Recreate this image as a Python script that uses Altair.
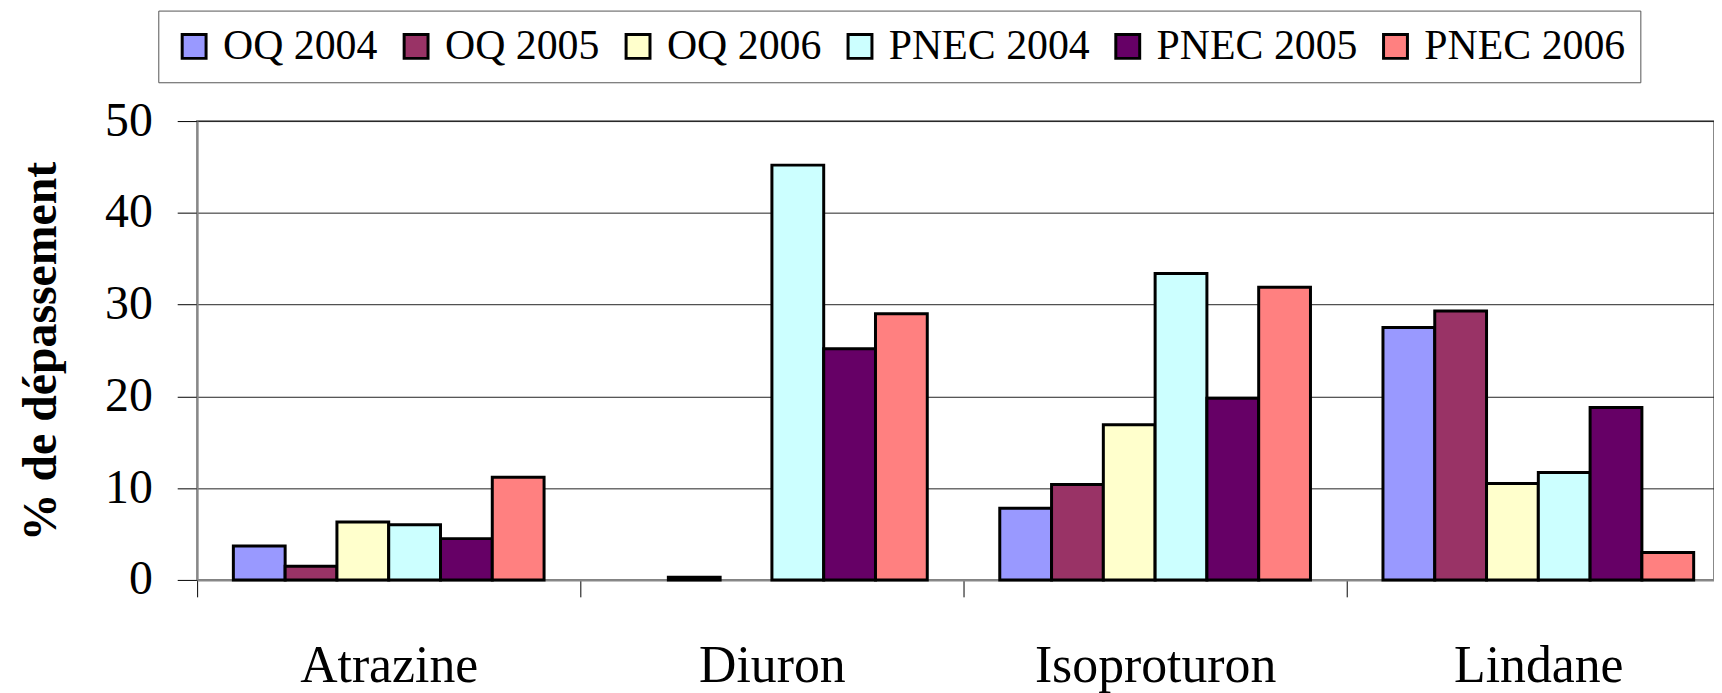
import altair as alt
import pandas as pd

categories = ["Atrazine", "Diuron", "Isoproturon", "Lindane"]
series = ["OQ 2004", "OQ 2005", "OQ 2006", "PNEC 2004", "PNEC 2005", "PNEC 2006"]
oq_2004 = [3.7, 0.0, 7.8, 27.5]
oq_2005 = [1.5, 0.3, 10.4, 29.3]
oq_2006 = [6.3, 0.0, 16.9, 10.5]
pnec_2004 = [6.0, 45.2, 33.4, 11.7]
pnec_2005 = [4.5, 25.2, 19.8, 18.8]
pnec_2006 = [11.2, 29.0, 31.9, 3.0]
colors = ["#9999FF", "#993366", "#FFFFCC", "#CCFFFF", "#660066", "#FF8080"]
y_ticks = [0, 10, 20, 30, 40, 50]

values_by_series = [oq_2004, oq_2005, oq_2006, pnec_2004, pnec_2005, pnec_2006]
rows = []
for s, vals in zip(series, values_by_series):
    for c, v in zip(categories, vals):
        rows.append({"category": c, "series": s, "value": v})
df = pd.DataFrame(rows)

FONT = "Liberation Serif"

chart = (
    alt.Chart(df)
    .transform_filter("datum.value > 0")
    .mark_bar(stroke="black", strokeWidth=3)
    .encode(
        x=alt.X(
            "category:N",
            sort=categories,
            scale=alt.Scale(domain=categories, paddingInner=0, paddingOuter=0, range=[0, 1540]),
            axis=alt.Axis(
                title=None,
                labelAngle=0,
                tickBand="extent",
                labelFont=FONT,
                labelFontSize=52,
                labelColor="black",
                labelPadding=44,
                labelLimit=600,
                tickSize=17,
                tickColor="black",
                tickWidth=1,
                domainColor="#888888",
                domainWidth=2,
                grid=False,
            ),
        ),
        xOffset=alt.XOffset(
            "series:N",
            scale=alt.Scale(domain=series, paddingInner=0, paddingOuter=0.7),
        ),
        y=alt.Y(
            "value:Q",
            scale=alt.Scale(domain=[0, 50], nice=False),
            axis=alt.Axis(
                values=y_ticks,
                title="% de dépassement",
                titleFont=FONT,
                titleFontSize=48,
                titleFontWeight="bold",
                titleColor="black",
                titleAngle=270,
                titleX=-156,
                titleY=231,
                titleAlign="center",
                titleBaseline="middle",
                labelFont=FONT,
                labelFontSize=48,
                labelColor="black",
                labelPadding=25,
                tickSize=20,
                tickColor="black",
                tickWidth=1,
                domainColor="#888888",
                domainWidth=2,
                gridColor="#222222",
                gridWidth=1,
            ),
        ),
        color=alt.Color(
            "series:N",
            scale=alt.Scale(domain=series, range=colors),
            legend=alt.Legend(
                title=None,
                orient="none",
                legendX=-39,
                legendY=-111,
                direction="horizontal",
                columns=6,
                symbolType="square",
                symbolSize=576,
                symbolStrokeColor="black",
                symbolStrokeWidth=3,
                labelFont=FONT,
                labelFontSize=42,
                labelColor="black",
                labelOffset=8,
                labelLimit=400,
                columnPadding=17,
                padding=15,
                strokeColor="#555555",
                fillColor="white",
            ),
        ),
    )
    .properties(
        width=1524,
        height=461,
        autosize=alt.AutoSizeParams(type="none"),
        padding={"left": 190, "top": 112, "right": 0, "bottom": 112},
    )
    .configure_view(stroke="#888888", strokeWidth=2)
)

chart.save("out.html", embed_options={"renderer": "svg", "actions": False})
